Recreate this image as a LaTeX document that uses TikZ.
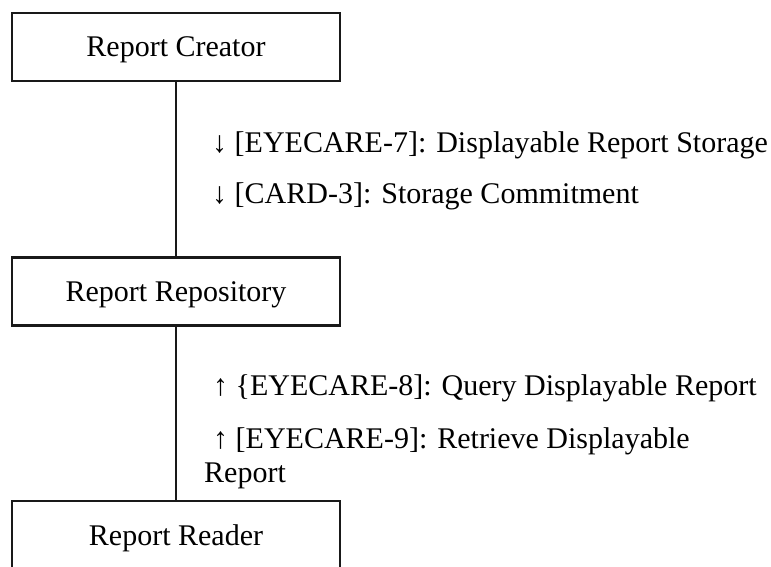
\documentclass[tikz,border=0pt]{standalone}
\usepackage{fontspec}
\setmainfont{Liberation Serif}
\begin{document}
\begin{tikzpicture}[x=1pt,y=-1pt,
  box/.style={draw=black!90, line width=2.5pt, minimum width=328pt, minimum height=68pt,
    inner sep=0pt, text height=40pt, text depth=20pt, font=\fontsize{30}{36}\selectfont},
  lbl/.style={anchor=base west, inner sep=0pt, font=\fontsize{30}{36}\selectfont},
  conn/.style={draw=black!90, line width=2pt}]
\useasboundingbox (0,0) rectangle (771,567);
\clip (0,0) rectangle (771,567);
\node[box] (creator) at (176,47) {Report Creator};
\node[box] (repo) at (176,291.5) {Report Repository};
\node[box] (reader) at (176,535) {Report Reader};
\draw[conn] (creator.south) -- (repo.north);
\draw[conn] (repo.south) -- (reader.north);
\node[lbl] (l1) at (212,153) {↓ [EYECARE-7]: Displayable Report Storage};
\node[lbl] (l2) at (212,203) {↓ [CARD-3]: Storage Commitment};
\node[lbl] (l3) at (213,395) {↑ \{EYECARE-8]: Query Displayable Report};
\node[lbl] (l4) at (213,448) {↑ [EYECARE-9]: Retrieve Displayable};
\node[lbl] (l5) at (204,482) {Report};
\end{tikzpicture}
\end{document}
